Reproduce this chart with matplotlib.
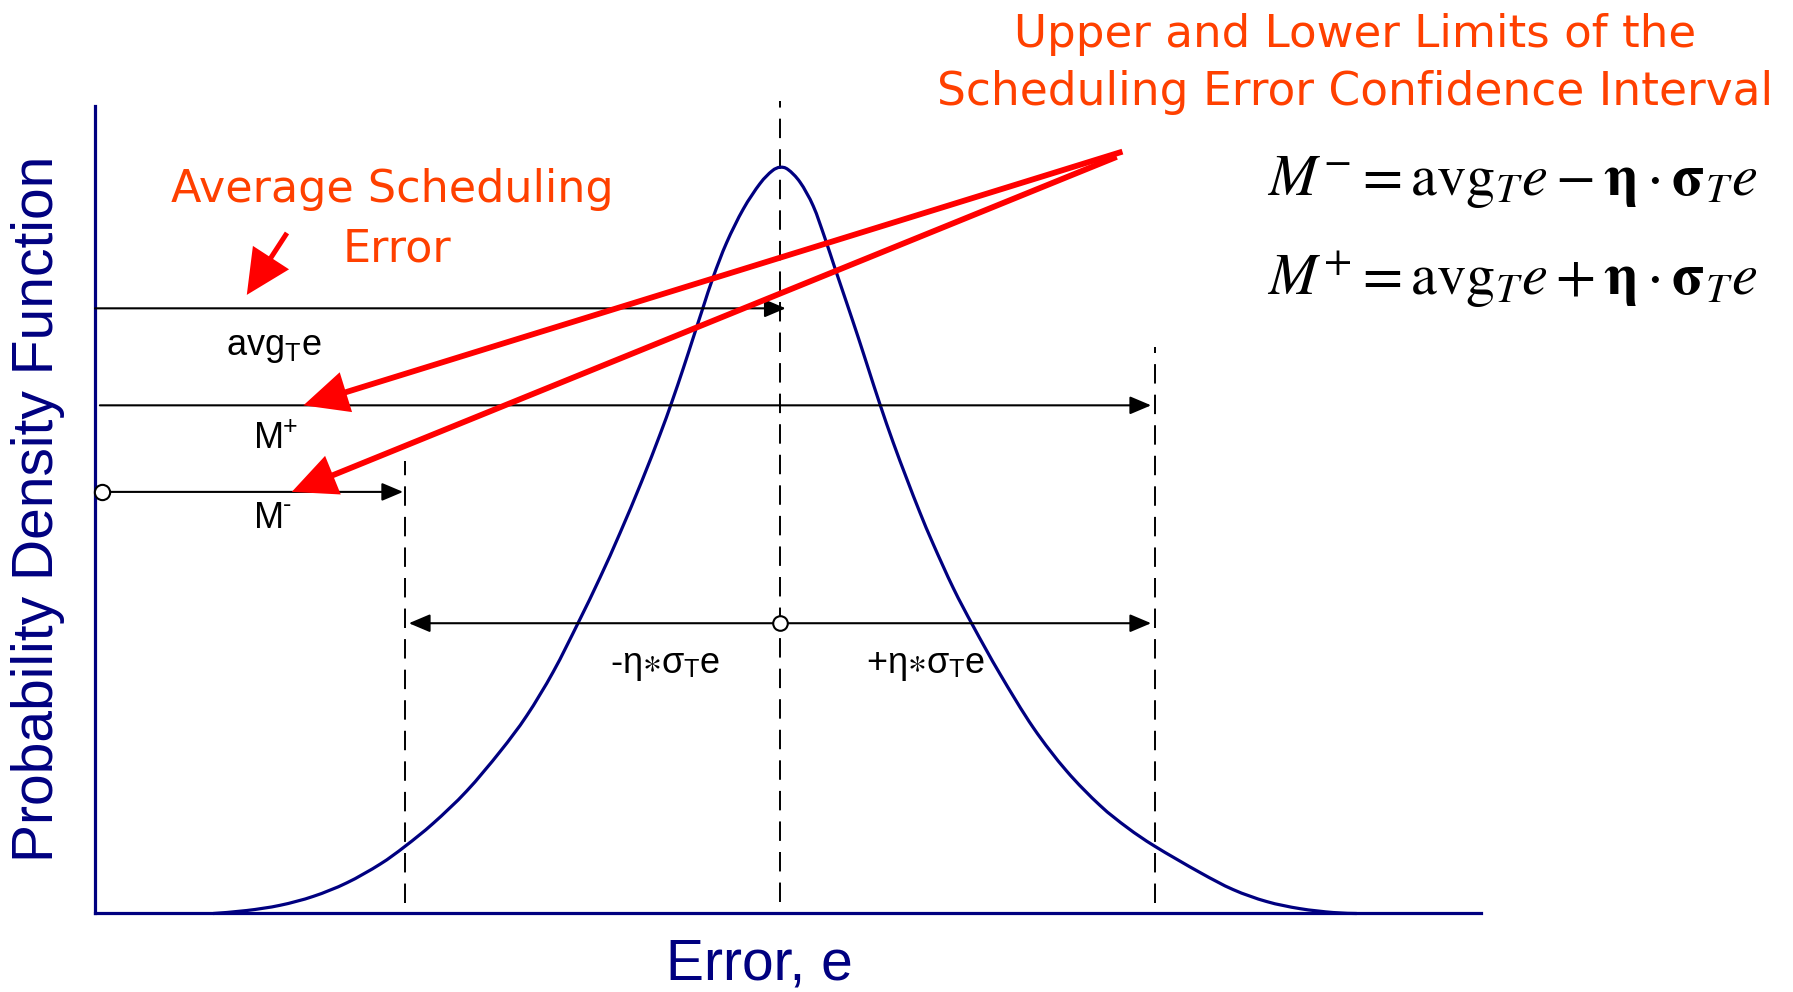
import numpy as np
import matplotlib.pyplot as plt
from matplotlib.path import Path
from matplotlib.patches import PathPatch

# curve: error in sigma units, density relative to the peak
error_x = [-2.962, -2.787, -2.613, -2.439, -2.265, -2.091, -1.960, -1.812, -1.638,
           -1.463, -1.324, -1.185, -1.054, -0.941, -0.836, -0.723, -0.627, -0.566,
           -0.505, -0.453, -0.401, -0.349, -0.279, -0.192, -0.105, -0.042, 0.000,
           0.042, 0.105, 0.174, 0.235, 0.287, 0.349, 0.409, 0.462, 0.523, 0.592,
           0.662, 0.732, 0.801, 0.906, 1.010, 1.150, 1.324, 1.498, 1.672, 1.816,
           1.960, 2.195, 2.369, 2.544, 2.718, 2.892, 3.014]
density = [0.000, 0.004, 0.011, 0.023, 0.041, 0.066, 0.090, 0.121, 0.164,
           0.217, 0.265, 0.324, 0.390, 0.450, 0.510, 0.579, 0.642, 0.685,
           0.731, 0.772, 0.813, 0.853, 0.899, 0.944, 0.978, 0.995, 1.000,
           0.997, 0.980, 0.948, 0.905, 0.865, 0.818, 0.772, 0.730, 0.682, 0.631,
           0.583, 0.537, 0.495, 0.436, 0.385, 0.321, 0.249, 0.191, 0.145, 0.115,
           0.090, 0.055, 0.032, 0.016, 0.0065, 0.0013, 0.000]

avg_e = 0.0
sigma_e = 1.0
eta = 1.96

NAVY = '#000080'
ORANGE = '#FF4000'
SANS = ['Liberation Sans', 'DejaVu Sans']

plt.rcParams['lines.scale_dashes'] = False


def smooth_path(xs, ys):
    # cubic bezier through the read points (catmull-rom handles)
    p = np.column_stack([xs, ys])
    ext = np.vstack([p[0], p, p[-1]])
    verts = [p[0]]
    codes = [Path.MOVETO]
    for i in range(1, len(ext) - 2):
        p0, p1, p2, p3 = ext[i - 1], ext[i], ext[i + 1], ext[i + 2]
        verts += [p1 + (p2 - p0) / 6, p2 - (p3 - p1) / 6, p2]
        codes += [Path.CURVE4] * 3
    return Path(verts, codes)


fig = plt.figure(figsize=(17.93, 9.92), dpi=100)
ax = fig.add_axes([0, 0, 1, 1])
ax.set_xlim(-4.077, 5.295)
ax.set_ylim(-0.1052, 1.2242)

# axes drawn as spines
x_left, x_right, y_top = -3.58, 3.666, 1.082
for s in ['top', 'right']:
    ax.spines[s].set_visible(False)
ax.spines['left'].set_position(('data', x_left))
ax.spines['left'].set_bounds(0, y_top)
ax.spines['bottom'].set_position(('data', 0))
ax.spines['bottom'].set_bounds(x_left, x_right)
for s in ['left', 'bottom']:
    ax.spines[s].set_color(NAVY)
    ax.spines[s].set_linewidth(2.3)
ax.set_xticks([])
ax.set_yticks([])
ax.patch.set_visible(False)

lo = avg_e - eta * sigma_e
hi = avg_e + eta * sigma_e

# dashed guide lines
dash = (0, (14, 8))
ax.plot([avg_e, avg_e], [0.016, 1.089], color='black', lw=1.4, ls=dash)
ax.plot([lo, lo], [0.014, 0.606], color='black', lw=1.4, ls=dash)
ax.plot([hi, hi], [0.014, 0.759], color='black', lw=1.4, ls=dash)

# the density curve
ax.add_patch(PathPatch(smooth_path(error_x, density), fc='none', ec=NAVY, lw=2.3,
                       joinstyle='round', capstyle='round', zorder=3))

# black horizontal arrows
y_avg, y_mp, y_mm, y_int = 0.811, 0.681, 0.565, 0.389
head = dict(arrowstyle='-|>,head_length=1.3,head_width=0.55', color='black',
            lw=1.5, shrinkA=0, shrinkB=0, mutation_scale=10)
ax.annotate('', xy=(avg_e + 0.03, y_avg), xytext=(x_left, y_avg), arrowprops=head)
ax.annotate('', xy=(hi - 0.02, y_mp), xytext=(-3.555, y_mp), arrowprops=head)
ax.annotate('', xy=(lo - 0.01, y_mm), xytext=(-3.545, y_mm), arrowprops=head)
both = dict(head, arrowstyle='<|-|>,head_length=1.3,head_width=0.55')
ax.annotate('', xy=(hi - 0.02, y_int), xytext=(lo + 0.02, y_int), arrowprops=both)
ax.plot([-3.545], [y_mm], marker='o', ms=11, mfc='white', mec='black', mew=1.5, zorder=4)
ax.plot([avg_e], [y_int], marker='o', ms=10.5, mfc='white', mec='black', mew=1.5, zorder=4)

# labels under the arrows
lab = dict(fontsize=26, family=SANS, ha='center', va='baseline', color='black')
ax.text(-2.645, 0.748, r'avg$_\mathregular{T}$e', **lab)
ax.text(-2.67, 0.624, 'M', **lab)
ax.text(-2.67, 0.517, 'M', **lab)
sup = dict(fontsize=18, family=SANS, ha='left', va='baseline', color='black',
           textcoords='offset points')
ax.annotate('+', xy=(-2.67, 0.624), xytext=(10, 10), **sup)
ax.annotate('-', xy=(-2.67, 0.517), xytext=(10, 11), **sup)
ax.text(-0.600, 0.322, r'-η$\ast$σ$_\mathregular{T}$e', math_fontfamily='stixsans', **lab)
ax.text(0.760, 0.322, r'+η$\ast$σ$_\mathregular{T}$e', math_fontfamily='stixsans', **lab)

# red pointer arrows
red = dict(arrowstyle='simple,head_length=3.2,head_width=3.0,tail_width=0.42',
           color='red', lw=0, shrinkA=0, shrinkB=0, mutation_scale=10)
ax.annotate('', xy=(-2.491, y_mp), xytext=(1.79, 1.021), arrowprops=red)
ax.annotate('', xy=(-2.552, y_mm), xytext=(1.76, 1.014), arrowprops=red)
small = dict(red, arrowstyle='simple,head_length=3.2,head_width=3.1,tail_width=0.36')
ax.annotate('', xy=(-2.787, 0.829), xytext=(-2.577, 0.912), arrowprops=small)

# red notes
note = dict(family='DejaVu Sans', ha='center', va='baseline', color=ORANGE)
ax.text(-2.028, 0.954, 'Average Scheduling', fontsize=32, **note)
ax.text(-2.002, 0.8735, 'Error', fontsize=32, **note)
ax.text(3.005, 1.1616, 'Upper and Lower Limits of the', fontsize=32.5, **note)
ax.text(3.005, 1.0834, 'Scheduling Error Confidence Interval', fontsize=32.8, **note)

# formulas
ax.text(2.545, 0.963, r'$M^{-} = \mathrm{avg}_{T}e - \mathbf{\eta}\cdot\mathbf{\sigma}_{T}e$',
        fontsize=42, math_fontfamily='stix', ha='left', va='baseline')
ax.text(2.545, 0.829, r'$M^{+} = \mathrm{avg}_{T}e + \mathbf{\eta}\cdot\mathbf{\sigma}_{T}e$',
        fontsize=42, math_fontfamily='stix', ha='left', va='baseline')

# axis titles
ax.text(-3.88, 0.542, 'Probability Density Function', fontsize=41, family=SANS,
        color=NAVY, rotation=90, ha='center', va='center')
ax.text(-0.11, -0.0891, 'Error, e', fontsize=41, family=SANS, color=NAVY,
        ha='center', va='baseline')

fig.savefig('out.png', dpi=100)
